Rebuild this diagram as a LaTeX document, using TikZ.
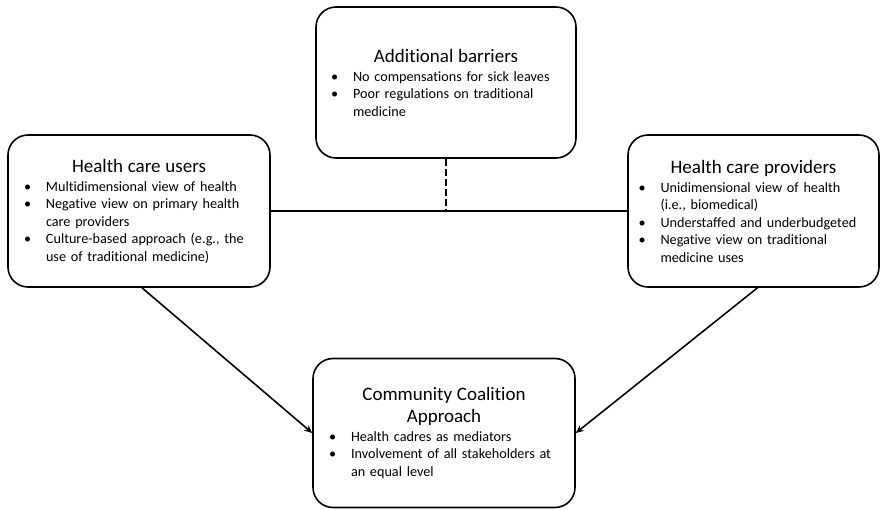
\documentclass[tikz,border=0pt]{standalone}
\usepackage{fontspec}
\setmainfont[Ligatures=NoCommon]{Carlito}
\usetikzlibrary{arrows.meta}

\newcommand{\boxtitle}[1]{{\centering\fontsize{19}{22}\selectfont #1\par}\vspace{1.5pt}}
\newcommand{\bitem}[1]{{\raggedright\hangindent=22pt\hangafter=1\noindent\makebox[22pt][l]{\textbullet}#1\par}}

\begin{document}
\begin{tikzpicture}[x=1pt,y=-1pt,
		factor/.style={draw, line width=1.6pt, rounded corners=20pt, text width=230pt, inner sep=0pt,
			font=\fontsize{14.2}{17.5}\selectfont, align=left},
		link/.style={line width=1.6pt},
		arr/.style={line width=1.6pt, -{Stealth[length=8pt,width=7pt]}}]
			\useasboundingbox (0,0) rectangle (882,510);
			
			% boxes
			\node[factor, minimum width=260pt, minimum height=151pt] (barriers) at (446,82.5) {%
				\boxtitle{Additional barriers}
				\bitem{No compensations for sick leaves}
				\bitem{Poor regulations on traditional\newline medicine}};
			\node[factor, minimum width=262pt, minimum height=152pt] (users) at (139,211) {%
				\boxtitle{Health care users}
				\bitem{Multidimensional view of health}
				\bitem{Negative view on primary health\newline care providers}
				\bitem{Culture-based approach (e.g., the\newline use of traditional medicine)}};
			\node[factor, minimum width=251pt, minimum height=152pt] (providers) at (753.5,211) {%
				\boxtitle{Health care providers}
				\bitem{Unidimensional view of health\newline (i.e., biomedical)}
				\bitem{Understaffed and underbudgeted}
				\bitem{Negative view on traditional\newline medicine uses}};
			\node[factor, minimum width=262pt, minimum height=149pt] (coalition) at (444,433) {%
				\boxtitle{Community Coalition\\Approach}
				\bitem{Health cadres as mediators}
				\bitem{Involvement of all stakeholders at\newline an equal level}};
			
			% connectors
			\draw[link] (users.east) -- (providers.west);
			\coordinate (meet) at (barriers.south |- users.east);
			\draw[link, dash pattern=on 7pt off 3pt] (barriers.south) -- (meet);
			\draw[arr] ([xshift=3pt]users.south) -- (coalition.west);
			\draw[arr] ([xshift=4pt]providers.south) -- (coalition.east);
		\end{tikzpicture}
\end{document}
